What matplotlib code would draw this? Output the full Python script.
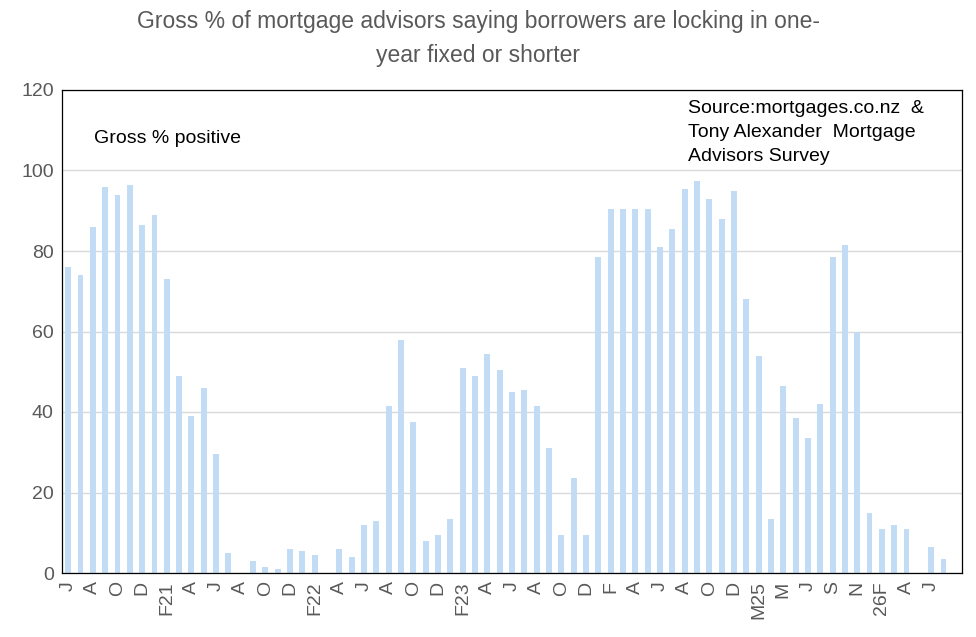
import matplotlib
matplotlib.use("Agg")
import matplotlib.pyplot as plt
import numpy as np

plt.rcParams['font.family'] = ['Liberation Sans', 'DejaVu Sans']

# monthly gross % (NaN = no survey that month)
values = [76, 74, 86, 96, 94, 96.5, 86.5, 89, 73, 49, 39, 46, 29.5, 5, np.nan,
          3, 1.5, 1, 6, 5.5, 4.5, np.nan, 6, 4, 12, 13, 41.5, 58, 37.5, 8,
          9.5, 13.5, 51, 49, 54.5, 50.5, 45, 45.5, 41.5, 31, 9.5, 23.5, 9.5,
          78.5, 90.5, 90.5, 90.5, 90.5, 81, 85.5, 95.5, 97.5, 93, 88, 95, 68,
          54, 13.5, 46.5, 38.5, 33.5, 42, 78.5, 81.5, 60, 15, 11, 12, 11,
          np.nan, 6.5, 3.5, np.nan]
labels = ["J", "A", "O", "D", "F21", "A", "J", "A", "O", "D", "F22", "A", "J",
          "A", "O", "D", "F23", "A", "J", "A", "O", "D", "F", "A", "J", "A",
          "O", "D", "M25", "M", "J", "S", "N", "26F", "A", "J"]

fig = plt.figure(figsize=(9.76, 6.37), dpi=100)
ax = fig.add_axes([62/976, 1-573/637, 900/976, 483/637])

x = np.arange(len(values))
ax.bar(x, values, width=0.48, color='#C3DCF6', zorder=2)
ax.set_xlim(-0.5, len(values)-0.5)
ax.set_ylim(0, 120)
ax.set_yticks(range(0, 121, 20))
ax.set_xticks(x[::2][:len(labels)])
ax.set_xticklabels(labels, rotation=90)
ax.tick_params(axis='both', length=0, labelsize=14, colors='#595959', pad=6)
ax.yaxis.grid(True, color='#D9D9D9', lw=1, zorder=0)
for s in ax.spines.values():
    s.set_color('black')
    s.set_linewidth(0.9)

ax.text(0.035, 0.9, "Gross % positive", transform=ax.transAxes, fontsize=14,
        va='center')
ax.text(0.695, 0.98, "Source:mortgages.co.nz  &\nTony Alexander  Mortgage\nAdvisors Survey",
        transform=ax.transAxes, fontsize=14, va='top', linespacing=1.55)
fig.text(0.49, 0.94, "Gross % of mortgage advisors saying borrowers are locking in one-\nyear fixed or shorter",
         ha='center', va='center', fontsize=16.5, color='#595959', linespacing=1.6)

fig.savefig("out.png", dpi=100)
